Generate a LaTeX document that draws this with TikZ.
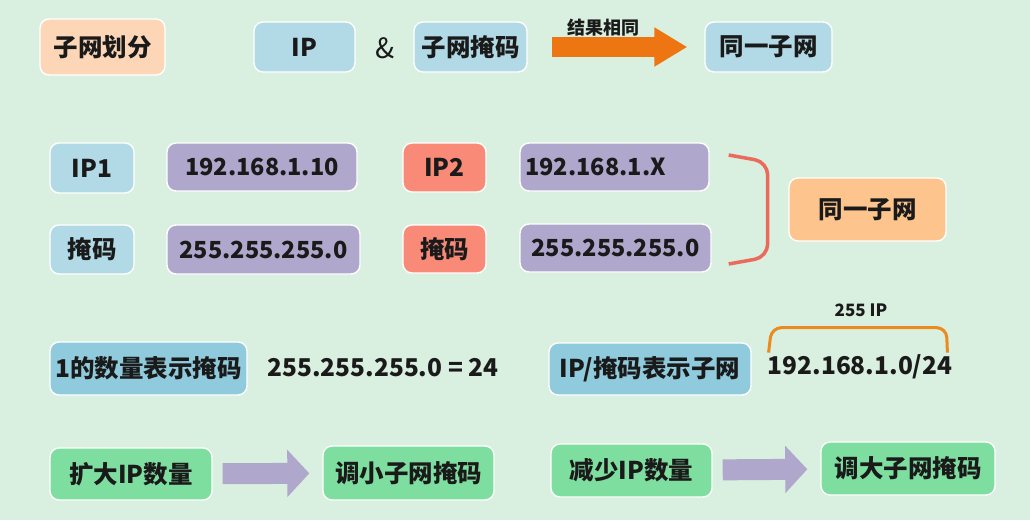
\documentclass[tikz,border=0pt]{standalone}
\usepackage{fontspec}
\setmainfont{Noto Sans CJK SC}
\usetikzlibrary{arrows.meta,calc}
\definecolor{bg}{HTML}{D9EFDF}
\definecolor{peach}{HTML}{FCD6B6}
\definecolor{lblue}{HTML}{B2DAE6}
\definecolor{dblue}{HTML}{8FCBDD}
\definecolor{lpurple}{HTML}{AFA7CC}
\definecolor{salmon}{HTML}{F98A77}
\definecolor{lorange}{HTML}{FDC48D}
\definecolor{lgreen}{HTML}{7EDE9F}
\definecolor{darrow}{HTML}{EE7612}
\definecolor{redbr}{HTML}{EA6B5B}
\definecolor{orbr}{HTML}{EB8A1E}
\definecolor{ink}{HTML}{1A1A1A}
\tikzset{
  box/.style={draw=white, line width=1.4pt, rounded corners=9pt, inner sep=0pt, text=ink,
    font=\bfseries\fontsize{24.5}{27}\selectfont},
  numbox/.style={box, font=\bfseries\fontsize{23.5}{26}\selectfont},
  plain/.style={text=ink, inner sep=0pt, font=\bfseries\fontsize{24.5}{28}\selectfont},
  fatorange/.style={draw=darrow, line width=20pt, -{Triangle[length=33pt,width=37pt]}},
  fatpurple/.style={draw=lpurple, line width=21pt, -{Triangle[length=22pt,width=46pt]}},
}
\begin{document}
\begin{tikzpicture}[x=1pt,y=-1pt]
\fill[bg] (0,0) rectangle (1030,520);
\useasboundingbox (0,0) rectangle (1030,520);

% top row
\node[box, fill=peach, minimum width=125pt, minimum height=56pt] (sub) at (102.5,47) {子网划分};
\node[box, fill=lblue, minimum width=101pt, minimum height=50pt] (ip) at (304.5,47) {IP};
\node[plain, font=\fontsize{28}{30}\selectfont] (amp) at (385,48) {\&};
\node[box, fill=lblue, minimum width=113pt, minimum height=50pt] (mask) at (470.5,47) {子网掩码};
\node[box, fill=lblue, minimum width=127pt, minimum height=50pt] (same1) at (768.5,47) {同一子网};
\draw[fatorange, shorten <=24pt, shorten >=17pt] (mask) -- (same1);
\node[text=ink, font=\bfseries\fontsize{18}{20}\selectfont] (res) at (603.5,28) {结果相同};

% second block
\node[box, fill=lblue, minimum width=84pt, minimum height=50pt] (ip1) at (92,168) {IP1};
\node[numbox, fill=lpurple, minimum width=190pt, minimum height=48pt] (ipv1) at (262,167) {192.168.1.10};
\node[box, fill=salmon, minimum width=83pt, minimum height=49pt] (ip2) at (444.5,167.5) {IP2};
\node[numbox, fill=lpurple, minimum width=189pt, minimum height=48pt] (ipv2) at (614.5,167) {\hspace*{-38pt}192.168.1.X};
\node[box, fill=lblue, minimum width=84pt, minimum height=49pt] (m1) at (92,249.5) {掩码};
\node[numbox, fill=lpurple, minimum width=193pt, minimum height=49pt] (mv1) at (263.5,249.5) {255.255.255.0};
\node[box, fill=salmon, minimum width=83pt, minimum height=48pt] (m2) at (444.5,249) {掩码};
\node[numbox, fill=lpurple, minimum width=191pt, minimum height=48pt] (mv2) at (615.5,248) {255.255.255.0};
\node[box, fill=lorange, minimum width=157pt, minimum height=63pt] (same2) at (867.5,209.5) {同一子网};
\draw[redbr, line width=3.5pt, rounded corners=13pt]
  ($(ipv2.east)+(19,-12)$) -- ($(ipv2.east)+(58,-5)$) -- ($(mv2.east)+(56,9)$) -- ($(mv2.east)+(17,16)$);

% third row
\node[box, fill=dblue, minimum width=197pt, minimum height=53pt] (count) at (148.5,368.5) {1的数量表示掩码};
\node[plain] (eq) at (383,368) {255.255.255.0 = 24};
\node[box, fill=dblue, minimum width=202pt, minimum height=52pt] (cidrbox) at (650,369) {IP/掩码表示子网};
\node[plain] (cidr) at (860,367) {192.168.1.0/24};
\draw[orbr, line width=3pt, rounded corners=10pt]
  ($(cidr.north west)+(1,-2)$) -- ($(cidr.north west)+(4,-27)$) -- ($(cidr.north east)+(-6,-27)$) -- ($(cidr.north east)+(-5,-2)$);
\node[text=ink, font=\bfseries\fontsize{17}{19}\selectfont] (n255) at (861,310) {255 IP};

% bottom row
\node[box, fill=lgreen, minimum width=162pt, minimum height=52pt] (g1) at (131,474) {扩大IP数量};
\node[box, fill=lgreen, minimum width=171pt, minimum height=54pt] (g2) at (408.5,473) {调小子网掩码};
\node[box, fill=lgreen, minimum width=161pt, minimum height=53pt] (g3) at (631.5,470.5) {减少IP数量};
\node[box, fill=lgreen, minimum width=174pt, minimum height=53pt] (g4) at (908,468.5) {调大子网掩码};
\draw[fatpurple, shorten <=10pt, shorten >=13pt] (g1) -- (g2);
\draw[fatpurple, shorten <=10pt, shorten >=13pt] (g3) -- (g4);
\end{tikzpicture}
\end{document}
